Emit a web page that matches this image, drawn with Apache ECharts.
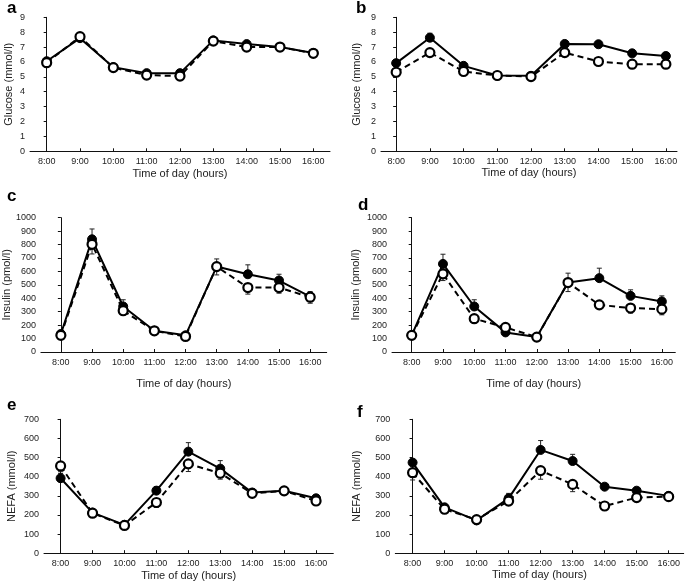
<!DOCTYPE html>
<html><head><meta charset="utf-8">
<script src="https://cdn.jsdelivr.net/npm/echarts@6/dist/echarts.min.js"></script>
<style>html,body{margin:0;padding:0;background:#fff}#c{width:685px;height:582px}</style>
</head><body><div id="c"></div>
<script>
// ---- Tick labels / categories ----
const times = ['8:00','9:00','10:00','11:00','12:00','13:00','14:00','15:00','16:00'];
const panelLetters = ['a','b','c','d','e','f'];
const yNames = ['Glucose (mmol/l)','Glucose (mmol/l)','Insulin (pmol/l)','Insulin (pmol/l)','NEFA (mmol/l)','NEFA (mmol/l)'];
const xName = 'Time of day (hours)';

// ---- Data: solid (filled circles) and dashed (open circles) ----
const glucoseA_solid  = [6.05, 7.6, 5.65, 5.25, 5.25, 7.45, 7.2, 7.0, 6.6];
const glucoseA_dashed = [5.95, 7.7, 5.62, 5.12, 5.05, 7.4, 7.0, 7.0, 6.58];
const glucoseA_solidErr  = [0.1, 0.15, 0.1, 0.1, 0.1, 0.1, 0.1, 0.1, 0.1];
const glucoseA_dashedErr = [0.1, 0.15, 0.1, 0.1, 0.1, 0.1, 0.1, 0.1, 0.1];

const glucoseB_solid  = [5.92, 7.63, 5.74, 5.09, 5.07, 7.21, 7.19, 6.58, 6.4];
const glucoseB_dashed = [5.31, 6.63, 5.36, 5.09, 5.02, 6.63, 6.03, 5.85, 5.85];
const glucoseB_solidErr  = [0.15, 0.3, 0.1, 0.1, 0.1, 0.15, 0.1, 0.1, 0.1];
const glucoseB_dashedErr = [0.15, 0.15, 0.1, 0.1, 0.1, 0.15, 0.1, 0.1, 0.1];

const insulinC_solid  = [134, 839, 339, 158, 124, 636, 579, 532, 413];
const insulinC_dashed = [124, 802, 307, 158, 116, 636, 480, 480, 408];
const insulinC_solidErr  = [15, 77, 50, 15, 15, 57, 70, 47, 37];
const insulinC_dashedErr = [15, 72, 30, 15, 15, 62, 49, 42, 45];

const insulinD_solid  = [124, 656, 339, 146, 111, 517, 550, 418, 376];
const insulinD_dashed = [124, 582, 248, 183, 111, 517, 351, 327, 319];
const insulinD_solidErr  = [15, 72, 50, 15, 15, 70, 74, 45, 42];
const insulinD_dashedErr = [15, 50, 20, 15, 15, 67, 15, 37, 42];

const nefaE_solid  = [392, 212, 148, 327, 531, 442, 317, 326, 287];
const nefaE_dashed = [456, 209, 145, 265, 467, 418, 313, 326, 273];
const nefaE_solidErr  = [25, 10, 10, 21, 47, 42, 10, 10, 10];
const nefaE_dashedErr = [30, 10, 10, 25, 40, 31, 10, 10, 10];

const nefaF_solid  = [474, 240, 172, 287, 540, 482, 348, 327, 300];
const nefaF_dashed = [421, 230, 176, 273, 432, 360, 247, 291, 296];
const nefaF_solidErr  = [15, 10, 10, 26, 49, 35, 10, 10, 10];
const nefaF_dashedErr = [38, 10, 10, 15, 45, 38, 10, 18, 10];

// y-axis ranges
const yMaxes = [9, 9, 1000, 1000, 700, 700];
const yIntervals = [1, 1, 100, 100, 100, 100];

const solidSets  = [glucoseA_solid, glucoseB_solid, insulinC_solid, insulinD_solid, nefaE_solid, nefaF_solid];
const dashedSets = [glucoseA_dashed, glucoseB_dashed, insulinC_dashed, insulinD_dashed, nefaE_dashed, nefaF_dashed];
const solidErrs  = [glucoseA_solidErr, glucoseB_solidErr, insulinC_solidErr, insulinD_solidErr, nefaE_solidErr, nefaF_solidErr];
const dashedErrs = [glucoseA_dashedErr, glucoseB_dashedErr, insulinC_dashedErr, insulinD_dashedErr, nefaE_dashedErr, nefaF_dashedErr];

// ---- Layout (positions, not data) ----
const layout = [
  {left:30,    top:17.3,  width:300,   height:134,   xmin:-0.5,  xmax:8.5,  yGap:16, xGap:17.2, lx:7,   ly:9},
  {left:381,   top:17.3,  width:296,   height:134,   xmin:-0.45, xmax:8.33, yGap:18.5, xGap:16.5, lx:356, ly:9},
  {left:40,    top:217.7, width:286.7, height:134.3, xmin:-0.64, xmax:8.53, yGap:26, xGap:26, lx:7,   ly:197},
  {left:392,   top:217.7, width:283.3, height:134.3, xmin:-0.63, xmax:8.43, yGap:31, xGap:26, lx:358, ly:206},
  {left:44,    top:419.3, width:289.3, height:134,   xmin:-0.52, xmax:8.54, yGap:26.5, xGap:16.8, lx:7,   ly:406},
  {left:395.3, top:419.3, width:288.4, height:134,   xmin:-0.54, xmax:8.47, yGap:32.5, xGap:16.3, lx:357, ly:413}
];

const FONT = 'Liberation Sans, Arial, sans-serif';
const TXT = '#222';
const idx = times.map((t,i)=>i);

function errRender(params, api){
  const x = api.value(0), y = api.value(1), e = api.value(2), dir = api.value(3);
  const p0 = api.coord([x, y]);
  const p1 = api.coord([x, y + dir*e]);
  const hw = 2.5;
  return {type:'group', children:[
    {type:'line', shape:{x1:p0[0], y1:p0[1], x2:p1[0], y2:p1[1]}, style:{stroke:'#222', lineWidth:1}},
    {type:'line', shape:{x1:p1[0]-hw, y1:p1[1], x2:p1[0]+hw, y2:p1[1]}, style:{stroke:'#222', lineWidth:1}}
  ]};
}

const grid = [], xAxis = [], yAxis = [], series = [], graphic = [];
layout.forEach((L, k) => {
  grid.push({left:L.left, top:L.top, width:L.width, height:L.height, containLabel:false});
  xAxis.push({
    type:'value', gridIndex:k, min:L.xmin, max:L.xmax,
    name:xName, nameLocation:'middle', nameGap:L.xGap,
    nameTextStyle:{fontFamily:FONT, fontSize:11, color:TXT},
    axisLine:{show:true, onZero:false, lineStyle:{color:'#111', width:1}},
    axisTick:{show:true, inside:true, length:3, customValues:idx, lineStyle:{color:'#111'}},
    axisLabel:{customValues:idx, formatter:(v)=>times[Math.round(v)], fontFamily:FONT, fontSize:9, color:TXT, margin:6},
    splitLine:{show:false}
  });
  yAxis.push({
    type:'value', gridIndex:k, min:0, max:yMaxes[k], interval:yIntervals[k],
    name:yNames[k], nameLocation:'middle', nameGap:L.yGap,
    nameTextStyle:{fontFamily:FONT, fontSize:11, color:TXT},
    axisLine:{show:true, lineStyle:{color:'#111', width:1}},
    axisTick:{show:true, inside:false, length:3, lineStyle:{color:'#111'}},
    axisLabel:{formatter:(v)=>String(v), fontFamily:FONT, fontSize:9, color:TXT, margin:5},
    splitLine:{show:false}
  });
  const s = solidSets[k], d = dashedSets[k], se = solidErrs[k], de = dashedErrs[k];
  series.push({
    type:'custom', xAxisIndex:k, yAxisIndex:k, renderItem:errRender, z:1, silent:true,
    data: s.map((v,i)=>[i, v, se[i], 1]).concat(d.map((v,i)=>[i, v, de[i], -1])),
    encode:{x:0, y:1}
  });
  series.push({
    type:'line', xAxisIndex:k, yAxisIndex:k, z:3,
    data: s.map((v,i)=>[i, v]),
    symbol:'circle', symbolSize:9,
    lineStyle:{color:'#000', width:2, type:'solid'},
    itemStyle:{color:'#000', borderColor:'#000', borderWidth:1}
  });
  series.push({
    type:'line', xAxisIndex:k, yAxisIndex:k, z:4,
    data: d.map((v,i)=>[i, v]),
    symbol:'circle', symbolSize:9,
    lineStyle:{color:'#000', width:2, type:[6,4]},
    itemStyle:{color:'#fff', borderColor:'#000', borderWidth:2.2}
  });
  graphic.push({type:'text', left:L.lx, top:L.ly - 9, silent:true,
    style:{text:panelLetters[k], font:'bold 17px ' + FONT, fill:'#000'}});
});

const chart = echarts.init(document.getElementById('c'), null, {renderer:'canvas'});
chart.setOption({
  animation:false,
  backgroundColor:'#fff',
  grid, xAxis, yAxis, series, graphic
});
</script>
</body></html>
